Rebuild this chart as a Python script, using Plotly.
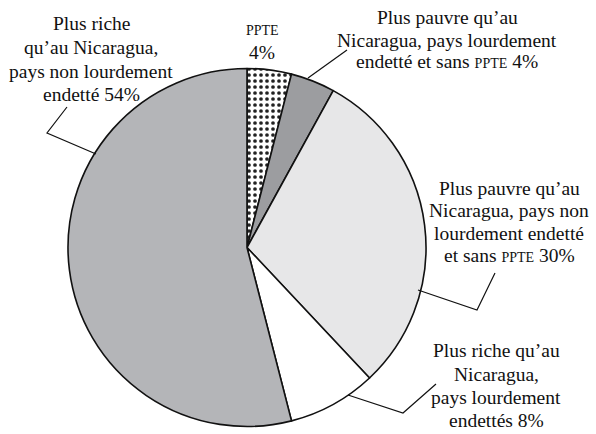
import plotly.graph_objects as go

categories = [
    "PPTE",
    "Plus pauvre qu'au Nicaragua, pays lourdement endetté et sans PPTE",
    "Plus pauvre qu'au Nicaragua, pays non lourdement endetté et sans PPTE",
    "Plus riche qu'au Nicaragua, pays lourdement endettés",
    "Plus riche qu'au Nicaragua, pays non lourdement endetté",
]
values = [4, 4, 30, 8, 54]
colors = ["#ffffff", "#9c9da0", "#e7e7e8", "#ffffff", "#b4b5b8"]
patterns = [".", "", "", "", ""]

W, H = 596, 434
FONT = "Liberation Serif"
FS = 19.5


def px(x):
    return x / W


def py(y):
    return 1 - y / H


fig = go.Figure()
fig.add_trace(go.Pie(
    labels=categories,
    values=values,
    sort=False,
    direction="clockwise",
    rotation=0,
    textinfo="none",
    hoverinfo="label+percent",
    marker=dict(
        colors=colors,
        line=dict(color="#111111", width=1.6),
        pattern=dict(shape=patterns, fgcolor="#222222", bgcolor="#ffffff",
                     size=6, solidity=0.3),
    ),
    domain=dict(x=[px(68), px(426)], y=[py(427), py(68)]),
    showlegend=False,
))

sc = lambda t: f"<span style='font-size:14px'>{t}</span>"
# (x centre, [(y centre, line text), ...])
label_blocks = [
    (262, [(30, sc("PPTE")), (52, "4%")]),
    (447, [(17, "Plus pauvre qu’au"), (40, "Nicaragua, pays lourdement"),
           (62, f"endetté et sans {sc('PPTE')} 4%")]),
    (509, [(188, "Plus pauvre qu’au"), (210.5, "Nicaragua, pays non"),
           (233.5, "lourdement endetté"), (255.5, f"et sans {sc('PPTE')} 30%")]),
    (496, [(350, "Plus riche qu’au"), (374, "Nicaragua,"),
           (397, "pays lourdement"), (420, "endettés 8%")]),
    (91, [(24, "Plus riche"), (47.5, "qu’au Nicaragua,"),
          (71, "pays non lourdement"), (94.5, "endetté 54%")]),
]
for x, lines in label_blocks:
    for y, t in lines:
        fig.add_annotation(x=px(x), y=py(y), xref="paper", yref="paper", text=t,
                           showarrow=False, xanchor="center", yanchor="middle",
                           align="center",
                           font=dict(family=FONT, size=FS, color="#111111"))

leaders = [
    [(308, 78), (347, 50)],
    [(96, 154), (47, 133), (67, 107)],
    [(418, 290), (477, 310), (495, 273)],
    [(348, 395), (403, 413), (436, 384)],
]
for pts in leaders:
    path = "M " + " L ".join(f"{px(x)},{py(y)}" for x, y in pts)
    fig.add_shape(type="path", path=path, xref="paper", yref="paper",
                  line=dict(color="#111111", width=1.2))

fig.update_layout(
    width=W, height=H,
    margin=dict(l=0, r=0, t=0, b=0),
    paper_bgcolor="white", plot_bgcolor="white",
    font=dict(family=FONT, size=FS, color="#111111"),
)
fig.write_html("out.html", config={"displayModeBar": False},
               post_script="document.body.style.margin='0';document.body.style.padding='0';")
